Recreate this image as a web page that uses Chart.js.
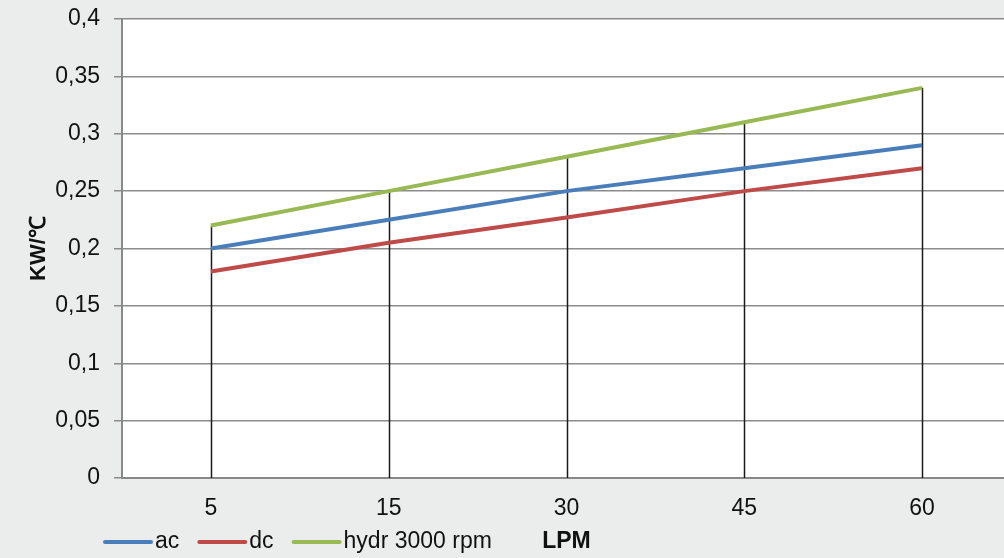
<!DOCTYPE html>
<html>
<head>
<meta charset="utf-8">
<script src="https://cdn.jsdelivr.net/npm/chart.js@4/dist/chart.umd.min.js"></script>
<style>
  html, body { margin: 0; padding: 0; background: #ebecec; overflow: hidden; }
  #wrap { width: 1012px; height: 558px; }
</style>
</head>
<body>
<div id="wrap"><canvas id="chart"></canvas></div>
<script>
const categories = ['5', '15', '30', '45', '60'];
const acValues = [0.2, 0.225, 0.25, 0.27, 0.29];
const dcValues = [0.18, 0.205, 0.227, 0.25, 0.27];
const hydrValues = [0.22, 0.25, 0.28, 0.31, 0.34];
const yTitle = 'KW/℃';
const xTitle = 'LPM';

const FONT = "'Liberation Sans', Arial, Helvetica, sans-serif";

// white plot area on the grey page
const plotBg = {
  id: 'plotBg',
  beforeDraw(chart) {
    const { ctx, chartArea: a } = chart;
    ctx.save();
    ctx.fillStyle = '#fff';
    ctx.fillRect(a.left, a.top, a.right - a.left, a.bottom - a.top);
    ctx.restore();
  }
};

// black drop lines from the top point of each category down to the axis
const dropLines = {
  id: 'dropLines',
  beforeDatasetsDraw(chart) {
    const { ctx, scales: { x, y } } = chart;
    ctx.save();
    ctx.strokeStyle = '#1a1a1a';
    ctx.lineWidth = 1.5;
    categories.forEach((c, i) => {
      const top = Math.max(...chart.data.datasets.map(d => d.data[i]));
      const px = Math.round(x.getPixelForValue(i)) + 0.5;
      ctx.beginPath();
      ctx.moveTo(px, y.getPixelForValue(top));
      ctx.lineTo(px, y.getPixelForValue(0));
      ctx.stroke();
    });
    ctx.restore();
  }
};

// legend in the bottom row, plus the category axis title in the same row
const bottomLegend = {
  id: 'bottomLegend',
  afterDraw(chart) {
    const { ctx, chartArea } = chart;
    const rowY = 542;
    ctx.save();
    ctx.font = '23px ' + FONT;
    ctx.textBaseline = 'middle';
    let px = 103;
    chart.data.datasets.forEach(ds => {
      ctx.strokeStyle = ds.borderColor;
      ctx.lineWidth = 4;
      ctx.lineCap = 'round';
      ctx.beginPath();
      ctx.moveTo(px + 2, rowY);
      ctx.lineTo(px + 48, rowY);
      ctx.stroke();
      ctx.fillStyle = '#111';
      ctx.textAlign = 'left';
      ctx.fillText(ds.label, px + 52, rowY);
      px += 52 + ctx.measureText(ds.label).width + 18;
    });
    ctx.font = 'bold 23px ' + FONT;
    ctx.textAlign = 'center';
    ctx.fillText(xTitle, (chartArea.left + chartArea.right) / 2, rowY);
    ctx.restore();
  }
};

const lineStyle = color => ({
  borderColor: color,
  backgroundColor: color,
  borderWidth: 4,
  pointRadius: 0,
  tension: 0,
  fill: false
});

new Chart(document.getElementById('chart'), {
  type: 'line',
  data: {
    labels: categories,
    datasets: [
      { label: 'ac', data: acValues, ...lineStyle('#4a7ebb') },
      { label: 'dc', data: dcValues, ...lineStyle('#be4b48') },
      { label: 'hydr 3000 rpm', data: hydrValues, ...lineStyle('#98b954') }
    ]
  },
  options: {
    responsive: true,
    maintainAspectRatio: false,
    animation: false,
    layout: { padding: { left: 0, top: 19, right: 1, bottom: 40 } },
    plugins: {
      legend: { display: false },
      tooltip: { enabled: false }
    },
    scales: {
      x: {
        offset: true,
        grid: { display: false, drawTicks: false },
        border: { color: '#888', width: 2 },
        ticks: { color: '#111', padding: 17, font: { family: FONT, size: 23 } },
        afterFit: s => { s.height = 40; s.paddingLeft = 0; s.paddingRight = 0; }
      },
      y: {
        min: 0,
        max: 0.4,
        ticks: {
          stepSize: 0.05,
          color: '#111',
          padding: 14,
          font: { family: FONT, size: 23 },
          callback: v => String(Number(v.toFixed(2))).replace('.', ',')
        },
        grid: { color: '#8c8c8c', lineWidth: 1.5, tickLength: 8 },
        border: { color: '#888', width: 2 },
        title: {
          display: true,
          text: yTitle,
          color: '#111',
          font: { family: FONT, size: 22, weight: 'bold' },
          padding: { top: 26, bottom: 0 }
        },
        afterFit: s => { s.width = 122; s.paddingTop = 0; s.paddingBottom = 0; }
      }
    }
  },
  plugins: [plotBg, dropLines, bottomLegend]
});
</script>
</body>
</html>
